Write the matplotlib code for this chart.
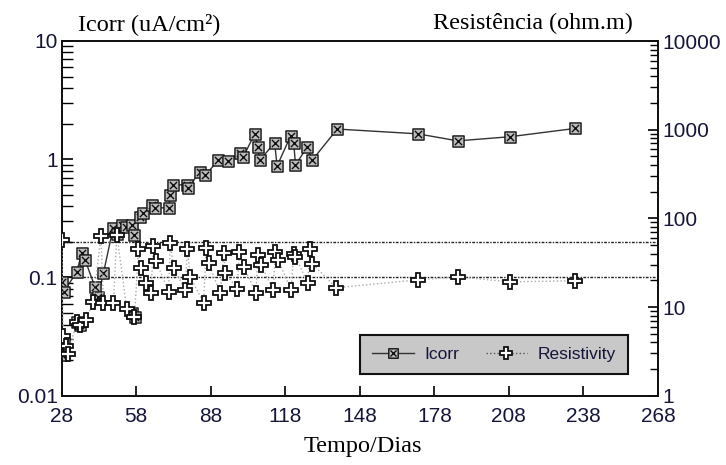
import matplotlib
matplotlib.use("Agg")
import matplotlib.pyplot as plt
from matplotlib.path import Path
from matplotlib.lines import Line2D
from matplotlib.ticker import NullFormatter, LogLocator

# ---------------- data ----------------
icorr_days = [28.0, 28.9, 34.0, 36.1, 37.4, 41.4, 42.6, 44.8, 48.7, 50.3, 52.3, 53.9,
              56.2, 56.9, 59.6, 60.9, 64.3, 65.6, 71.0, 71.7, 72.9, 78.4, 79.0, 83.5,
              85.8, 91.1, 95.1, 99.6, 101.1, 105.7, 107.0, 107.7, 113.7, 114.7, 120.1,
              121.4, 122.1, 126.8, 128.8, 138.9, 171.3, 187.4, 208.4, 234.5]
icorr_values = [0.092, 0.076, 0.111, 0.161, 0.141, 0.083, 0.069, 0.109, 0.262, 0.234, 0.279, 0.268,
                0.279, 0.229, 0.325, 0.352, 0.411, 0.388, 0.388, 0.499, 0.607, 0.607, 0.572, 0.781,
                0.736, 0.98, 0.97, 1.13, 1.05, 1.64, 1.27, 0.986, 1.37, 0.877, 1.57,
                1.37, 0.895, 1.27, 0.98, 1.80, 1.64, 1.43, 1.55, 1.82]

icorr_extra_days = [28.0, 28.9, 34.0, 35.4, 56.2, 57.6]
icorr_extra_values = [0.022, 0.028, 0.042, 0.040, 0.050, 0.046]

res_days = [28.0, 28.6, 29.7, 30.7, 34.0, 35.4, 37.8, 40.7, 43.8, 44.8, 48.8, 50.2,
            54.2, 57.3, 58.9, 59.9, 62.0, 63.9, 64.9, 66.0, 71.0, 71.7, 73.0, 77.7,
            78.6, 79.7, 85.1, 86.2, 87.1, 91.8, 93.2, 93.8, 98.6, 99.5, 101.2, 106.2,
            106.9, 108.2, 113.1, 114.0, 115.1, 120.3, 121.4, 122.1, 127.0, 128.1, 128.8,
            138.6, 171.4, 187.4, 208.4, 234.5]
res_values = [57.3, 4.7, 3.66, 2.97, 6.8, 6.3, 7.2, 11.5, 63.5, 11.2, 11.2, 65.2,
              9.5, 7.8, 45.3, 27.7, 18.8, 14.5, 49.0, 33.2, 14.9, 53.0, 27.7, 15.6,
              45.3, 21.9, 11.2, 46.5, 31.5, 14.5, 40.9, 24.3, 16.1, 42.0, 28.4, 14.5,
              38.8, 29.9, 15.6, 42.0, 34.1, 15.6, 39.8, 36.8, 18.8, 45.3, 30.7,
              16.5, 20.3, 21.9, 19.2, 19.8]

ref_levels = [0.1, 0.2]

x_ticks = [28, 58, 88, 118, 148, 178, 208, 238, 268]
x_tick_labels = ["28", "58", "88", "118", "148", "178", "208", "238", "268"]
left_ticks = [0.01, 0.1, 1, 10]
left_tick_labels = ["0.01", "0.1", "1", "10"]
right_ticks = [1, 10, 100, 1000, 10000]
right_tick_labels = ["1", "10", "100", "1000", "10000"]

# ---------------- style ----------------
sans = "Liberation Sans"
serif = "Liberation Serif"
txt_col = "#15153a"

W, H = 726, 465
fig = plt.figure(figsize=(W / 100, H / 100), dpi=100)
L, R, T, B = 61.7, 658.0, 41.0, 395.7
ax = fig.add_axes([L / W, 1 - B / H, (R - L) / W, (B - T) / H])
ax2 = ax.twinx()

# square-with-X marker
verts = [(-1, -1), (1, -1), (1, 1), (-1, 1), (-1, -1),
         (-0.65, -0.65), (0.65, 0.65), (-0.65, 0.65), (0.65, -0.65)]
codes = [Path.MOVETO, Path.LINETO, Path.LINETO, Path.LINETO, Path.CLOSEPOLY,
         Path.MOVETO, Path.LINETO, Path.MOVETO, Path.LINETO]
boxx = Path(verts, codes)

sq_kw = dict(marker=boxx, markersize=8, markerfacecolor="#bdbdbd",
             markeredgecolor="#111111", markeredgewidth=1.0)
res_kw = dict(marker="P", markersize=10.5, markerfacecolor="white",
              markeredgecolor="#111111", markeredgewidth=1.3)

for lvl in ref_levels:
    ax.axhline(lvl, color="#222222", lw=1.0, linestyle=(0, (2, 1, 1, 1)), zorder=1)

ax.plot(icorr_days, icorr_values, color="#333333", lw=1.0, zorder=3, **sq_kw)
ax.plot(icorr_extra_days, icorr_extra_values, linestyle="none", zorder=3, **sq_kw)
ax2.plot(res_days, res_values, color="#aaaaaa", lw=1.0, linestyle=":", zorder=3, **res_kw)

ax.set_xlim(28, 268)
ax.set_yscale("log")
ax.set_ylim(0.01, 10)
ax2.set_yscale("log")
ax2.set_ylim(1, 10000)

ax.set_xticks(x_ticks)
ax.set_xticklabels(x_tick_labels, fontsize=15, family=sans, color=txt_col)
ax.set_yticks(left_ticks)
ax.set_yticklabels(left_tick_labels, fontsize=15, family=sans, color=txt_col)
ax2.set_yticks(right_ticks)
ax2.set_yticklabels(right_tick_labels, fontsize=15, family=sans, color=txt_col)
for a in (ax, ax2):
    a.yaxis.set_minor_locator(LogLocator(base=10, subs=range(2, 10)))
    a.yaxis.set_minor_formatter(NullFormatter())

ax.tick_params(axis="x", direction="in", length=7, width=1.2, pad=8, top=False)
ax.tick_params(axis="y", which="major", direction="in", length=8, width=1.2, pad=3)
ax.tick_params(axis="y", which="minor", direction="in", length=8, width=1.0)
ax2.tick_params(axis="y", which="major", direction="in", length=7, width=1.2, pad=3)
ax2.tick_params(axis="y", which="minor", direction="in", length=6, width=1.0)

# nudge the bottom right-axis label slightly up, like the reference
ax2.get_yticklabels()[0].set_va("center_baseline")

for a in (ax, ax2):
    for s in a.spines.values():
        s.set_linewidth(1.3)
        s.set_color("#111111")

ax.text((142.5 - L) / (R - L), (B - 68) / (B - T), "A", fontsize=14, family=sans,
        color=txt_col, ha="center", va="center")

fig.text(78 / W, 1 - 30 / H, "Icorr (uA/cm²)", fontsize=17.5, family=serif,
         ha="left", va="baseline", color="black")
fig.text(433 / W, 1 - 29 / H, "Resistência (ohm.m)", fontsize=17.4, family=serif,
         ha="left", va="baseline", color="black")
fig.text(0.5, 1 - 446 / H, "Tempo/Dias", fontsize=17.5, family=serif,
         ha="center", va="center", color="black")

h1 = Line2D([], [], color="#333333", lw=1.0, **sq_kw)
h2 = Line2D([], [], color="#555555", lw=1.0, linestyle=":", **res_kw)
leg = ax2.legend([h1, h2], ["Icorr", "Resistivity"], ncol=2,
                 loc="lower left", bbox_to_anchor=((360 - L) / (R - L), (B - 374) / (B - T),
                                                   (628 - 360) / (R - L), (374 - 332) / (B - T)),
                 mode="expand", fancybox=False, framealpha=1, facecolor="#c8c8c8",
                 edgecolor="#111111", prop={"family": sans, "size": 12.5},
                 handlelength=2.4, columnspacing=1.5, borderpad=0.7, handletextpad=0.6,
                 borderaxespad=0, markerscale=0.85)
leg.get_frame().set_linewidth(1.5)
for t in leg.get_texts():
    t.set_color(txt_col)

fig.savefig("out.png", dpi=100)
